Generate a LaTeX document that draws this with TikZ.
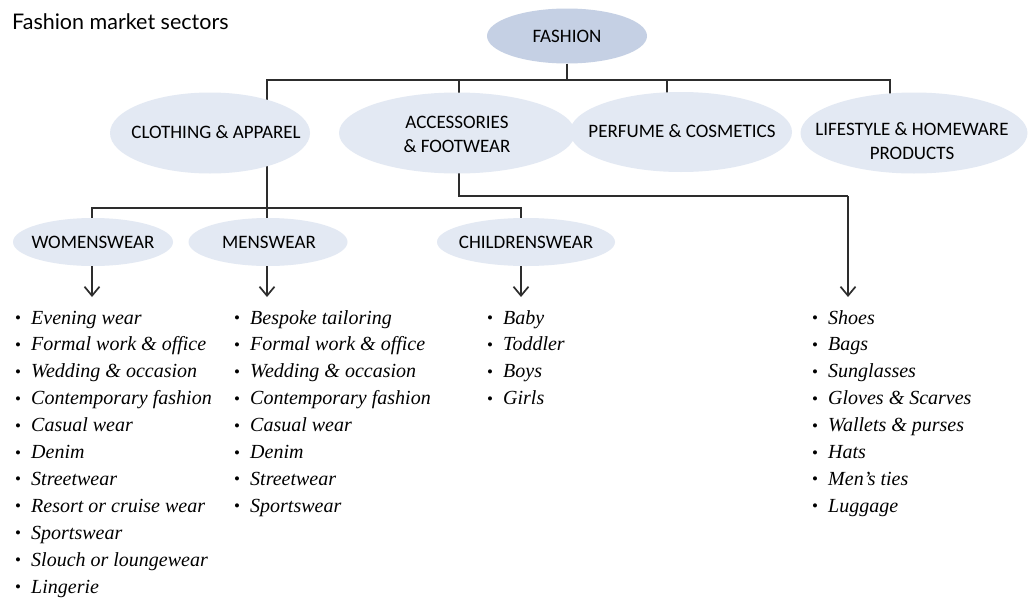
\documentclass[tikz,border=0pt]{standalone}
\usepackage{fontspec}
\setmainfont{Liberation Serif}
\newfontfamily\titlefont{Lato}
\newfontfamily\labelfont{Carlito}
\usetikzlibrary{arrows.meta,shapes.geometric,backgrounds}
\definecolor{topfill}{RGB}{197,208,228}
\definecolor{subfill}{RGB}{227,233,243}
\definecolor{linecol}{RGB}{45,45,45}
\tikzset{
  ell/.style={ellipse, inner sep=0pt, draw=none},
  lab/.style={font=\labelfont\fontsize{19}{22}\selectfont, text=black, align=center, inner sep=0pt},
  itemtext/.style={font=\itshape\fontsize{20}{22}\selectfont, anchor=base west, inner sep=0pt, text=black},
  conn/.style={draw=linecol, line width=1.7pt},
  arr/.style={conn, -{Straight Barb[length=9pt,width=15pt,line width=1.7pt]}},
}
\newcommand{\bul}[1]{\makebox[16pt][l]{\raisebox{0.5pt}{\fontsize{17}{17}\selectfont\upshape\textbullet}}#1}
\begin{document}
\begin{tikzpicture}[x=1pt,y=-1pt]
\path[use as bounding box] (0,0) rectangle (1032,608);

% title
\node[font=\titlefont\fontsize{21.5}{24}\selectfont, anchor=base west, inner sep=0pt] (title) at (12,29) {Fashion market sectors};

% top
\node[ell, fill=topfill, minimum width=160pt, minimum height=55pt] (fashion) at (567,36) {};
\node[lab] (fashiont) at (fashion) {FASHION};

% second level
\node[ell, fill=subfill, minimum width=200pt, minimum height=81pt] (clothing) at (210,133) {};
\node[lab] (clothingt) at (216,132) {CLOTHING \& APPAREL};
\node[ell, fill=subfill, minimum width=236pt, minimum height=81pt] (access) at (457,133) {};
\node[lab, align=center] (accesst) at (457,134) {ACCESSORIES\\[2pt]\& FOOTWEAR};
\node[ell, fill=subfill, minimum width=222pt, minimum height=80pt] (perfume) at (681,132) {};
\node[lab] (perfumet) at (682,131) {PERFUME \& COSMETICS};
\node[ell, fill=subfill, minimum width=227pt, minimum height=81pt] (life) at (914,133) {};
\node[lab, align=center] (lifet) at (912,141) {LIFESTYLE \& HOMEWARE\\[2pt]PRODUCTS};

% third level
\node[ell, fill=subfill, minimum width=160pt, minimum height=48pt] (women) at (93,242) {};
\node[lab] (woment) at (93,242) {WOMENSWEAR};
\node[ell, fill=subfill, minimum width=159pt, minimum height=48pt] (men) at (268,242) {};
\node[lab] (ment) at (269,242) {MENSWEAR};
\node[ell, fill=subfill, minimum width=178pt, minimum height=48pt] (child) at (526,242) {};
\node[lab] (childt) at (526,242) {CHILDRENSWEAR};

% coordinates for connectors
\coordinate (barL) at (267,80);
\coordinate (barR) at (890,80);
\coordinate (tAcc) at (459,80);
\coordinate (tPer) at (667,80);
\coordinate (tFas) at (567,80);
\coordinate (cBarL) at (92,208);
\coordinate (cBarR) at (521,208);
\coordinate (cMid) at (267,208);
\coordinate (aDown) at (459,196);
\coordinate (aRight) at (848,196);
\coordinate (tipW) at (92,297);
\coordinate (tipM) at (267,297);
\coordinate (tipC) at (521,297);
\coordinate (tipA) at (848,297);
\coordinate (wTop) at (92,242);
\coordinate (mTop) at (267,242);
\coordinate (cTop) at (521,242);

\begin{scope}[on background layer]
  \fill[white] (0,0) rectangle (1032,608);
  \draw[conn] (fashion.south) -- (tFas);
  \draw[conn] (barL |- clothing.center) -- (barL) -- (barR) -- (barR |- life.center);
  \draw[conn] (tAcc) -- (tAcc |- access.center);
  \draw[conn] (tPer) -- (tPer |- perfume.center);
  \draw[conn] (barL |- clothing.center) -- (cMid);
  \draw[conn] (wTop) -- (cBarL) -- (cBarR) -- (cTop);
  \draw[conn] (cMid) -- (mTop);
  \draw[conn] (aDown |- access.center) -- (aDown) -- (aRight);
\end{scope}

% arrows
\draw[arr] (92,266) -- (tipW);
\draw[arr] (267,266) -- (tipM);
\draw[arr] (521,266) -- (tipC);
\draw[arr] (aRight) -- (tipA);

% lists
\foreach \t [count=\i] in {Evening wear, Formal work \& office, Wedding \& occasion, Contemporary fashion, Casual wear, Denim, Streetwear, Resort or cruise wear, Sportswear, Slouch or loungewear, Lingerie}
  \node[itemtext] (w\i) at (15,{324+26.9*(\i-1)}) {\bul{\t}};
\foreach \t [count=\i] in {Bespoke tailoring, Formal work \& office, Wedding \& occasion, Contemporary fashion, Casual wear, Denim, Streetwear, Sportswear}
  \node[itemtext] (m\i) at (234,{324+26.9*(\i-1)}) {\bul{\t}};
\foreach \t [count=\i] in {Baby, Toddler, Boys, Girls}
  \node[itemtext] (c\i) at (487,{324+26.9*(\i-1)}) {\bul{\t}};
\foreach \t [count=\i] in {Shoes, Bags, Sunglasses, Gloves \& Scarves, Wallets \& purses, Hats, Men’s ties, Luggage}
  \node[itemtext] (a\i) at (812,{324+26.9*(\i-1)}) {\bul{\t}};
\end{tikzpicture}
\end{document}
